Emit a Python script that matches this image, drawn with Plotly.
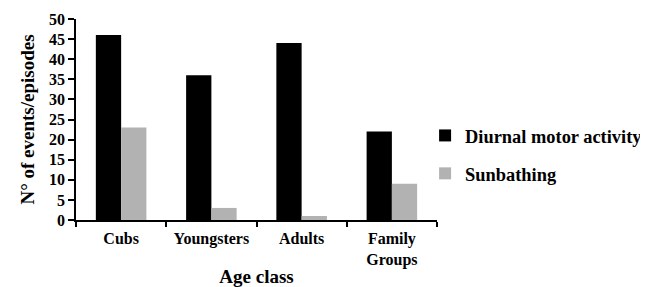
import plotly.graph_objects as go

categories = ["Cubs", "Youngsters", "Adults", "Family<br>Groups"]
diurnal = [46, 36, 44, 22]
sunbathing = [23, 3, 1, 9]
series_names = ["Diurnal motor activity", "Sunbathing"]
yticks = [0, 5, 10, 15, 20, 25, 30, 35, 40, 45, 50]

font_family = "Liberation Serif"

fig = go.Figure()
fig.add_trace(go.Bar(x=categories, y=diurnal, name=series_names[0],
                     marker=dict(color="#000000", line=dict(width=0)),
                     legendgroup="a"))
fig.add_trace(go.Bar(x=categories, y=sunbathing, name=series_names[1],
                     marker=dict(color="#b2b2b2", line=dict(width=0)),
                     legendgroup="b"))

# page body has an 8px default margin, so compensate; extra width lets the
# legend fit without shrinking the plot (overflow hidden avoids scrollbars)
fig.update_layout(
    width=680, height=279,
    margin=dict(l=68, r=251, t=11, b=67, pad=0),
    paper_bgcolor="white", plot_bgcolor="white",
    barmode="group", bargap=0.44, bargroupgap=0,
    font=dict(family=font_family, color="black", size=16),
    legend=dict(x=0.967, y=0.326, xanchor="left", yanchor="middle",
                font=dict(family=font_family, size=18.4, color="black", weight="bold"),
                tracegroupgap=11, itemwidth=30, borderwidth=0,
                bgcolor="rgba(0,0,0,0)"),
    showlegend=True,
)
fig.update_xaxes(
    automargin=False,
    showline=True, linecolor="black", linewidth=1.5,
    ticks="outside", tickson="boundaries", ticklen=5, tickcolor="black", tickwidth=1.5,
    ticklabelstandoff=3,
    tickfont=dict(family=font_family, size=16, color="black", weight="bold"),
    title=dict(text="Age class", font=dict(family=font_family, size=19, color="black", weight="bold"), standoff=2),
    showgrid=False,
)
fig.update_yaxes(
    automargin=False,
    range=[0, 50], tickvals=yticks,
    showline=True, linecolor="black", linewidth=1.5,
    ticks="outside", ticklen=6, tickcolor="black", tickwidth=1.5,
    tickfont=dict(family=font_family, size=16, color="black", weight="bold"),
    title=dict(text="N° of events/episodes", font=dict(family=font_family, size=19, color="black", weight="bold"), standoff=9),
    showgrid=False, zeroline=False,
)

fig.write_html(
    "out.html",
    post_script="document.documentElement.style.overflow='hidden';document.body.style.overflow='hidden';",
)
